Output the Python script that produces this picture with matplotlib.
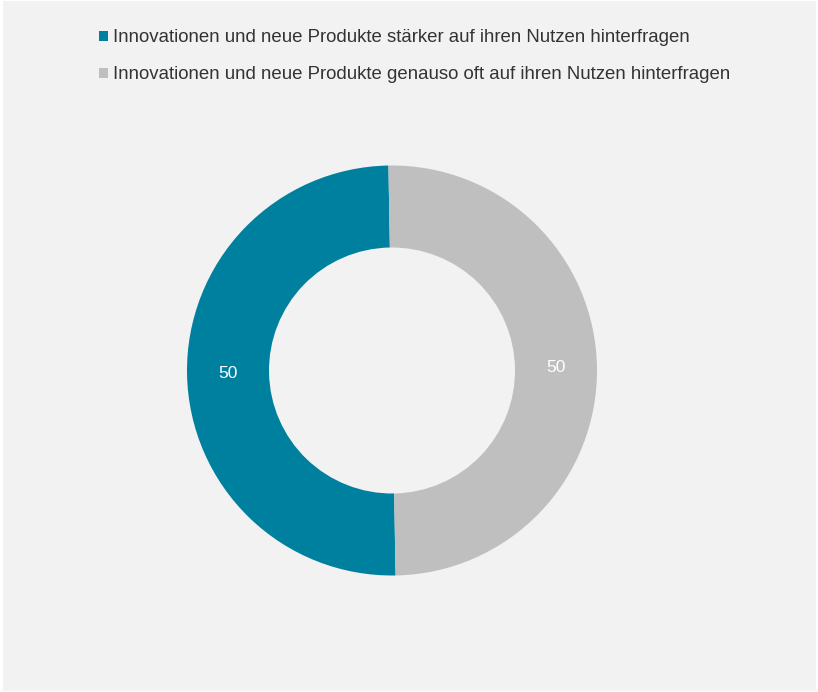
import matplotlib
matplotlib.use("Agg")
import matplotlib.pyplot as plt
from matplotlib.patches import Patch, Rectangle

categories = [
    "Innovationen und neue Produkte stärker auf ihren Nutzen hinterfragen",
    "Innovationen und neue Produkte genauso oft auf ihren Nutzen hinterfragen",
]
values = [50, 50]
colors = ["#00809f", "#bfbfbf"]

plt.rcParams['font.family'] = ['Liberation Sans', 'DejaVu Sans']

W, H = 818, 692
fig = plt.figure(figsize=(W / 100, H / 100), dpi=100)
fig.patch.set_facecolor("white")
bg = Rectangle((3 / W, 1 / H), (W - 5) / W, (H - 2) / H,
               transform=fig.transFigure, facecolor="#f2f2f2",
               edgecolor="none", zorder=-10)
fig.patches.append(bg)

cx, cy, r = 392, 692 - 370.5, 205
ax = fig.add_axes([(cx - r) / W, (cy - r) / H, 2 * r / W, 2 * r / H])
ax.set_zorder(5)
ax.set_facecolor("none")
total = sum(values)
wedges, texts, autotexts = ax.pie(
    values, colors=colors, startangle=91, counterclock=True, radius=1,
    wedgeprops=dict(width=0.4, edgecolor="none"),
    autopct=lambda p: f"{p * total / 100:.0f}", pctdistance=0.8,
    textprops=dict(color="white", fontsize=12.5))
ax.set_xlim(-1, 1)
ax.set_ylim(-1, 1)
ax.set_aspect("equal")
ax.axis("off")

handles = [Patch(facecolor=c, edgecolor="none") for c in colors]
leg = fig.legend(handles, categories, loc="upper left",
                 bbox_to_anchor=(90 / W, 1 - 20 / H), frameon=False,
                 fontsize=13.4, handlelength=0.45, handleheight=0.45,
                 handletextpad=0.3, labelspacing=1.07, borderpad=0)
leg.set_zorder(6)
for t in leg.get_texts():
    t.set_color("#333333")

fig.savefig("out.png", dpi=100, facecolor=fig.get_facecolor())
